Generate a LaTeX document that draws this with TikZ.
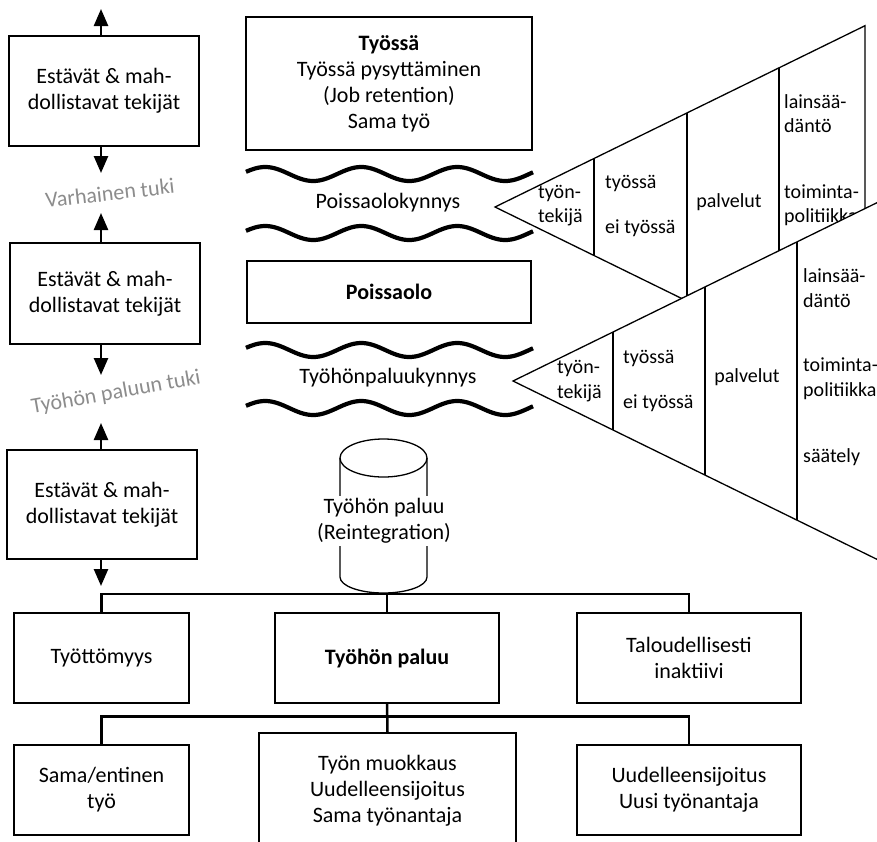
\documentclass[tikz,border=0pt]{standalone}
\usepackage{fontspec}
\setmainfont{Carlito}
\usetikzlibrary{arrows.meta,calc}
\begin{document}
\begin{tikzpicture}[x=1pt,y=-1pt,
  every node/.style={font=\fontsize{22}{26}\selectfont, inner sep=0pt},
  box/.style={draw, line width=1.5pt, align=center},
  tritext/.style={font=\fontsize{20}{24.5}\selectfont, align=left},
  arr/.style={line width=2.5pt, -{Triangle[width=14pt,length=17pt]}},
  bus/.style={line width=2.5pt},
  wave/.style={line width=4.2pt},
  hint/.style={text=black!45},
  triline/.style={line width=1.3pt, line join=miter}
]
\useasboundingbox (0,0) rectangle (877,841);
\clip (0,0) rectangle (877,841);

% ---------- left column: factors and support phases ----------
\node[box, minimum width=190pt, minimum height=110pt] (b1) at (104,91) {Estävät \& mah-\\dollistavat tekijät};
\node[box, minimum width=190pt, minimum height=101pt] (b2) at (105,293.5) {Estävät \& mah-\\dollistavat tekijät};
\node[box, minimum width=190pt, minimum height=109pt] (b3) at (102,504.5) {Estävät \& mah-\\dollistavat tekijät};

\coordinate (u1) at (101,9);
\coordinate (d1) at (101,173);
\coordinate (u2) at (101,213);
\coordinate (d2) at (101,375);
\coordinate (u3) at (101,423);
\coordinate (d3) at (101,586);
\draw[arr] (b1.north -| u1) -- (u1);
\draw[arr] (b1.south -| d1) -- (d1);
\draw[arr] (b2.north -| u2) -- (u2);
\draw[arr] (b2.south -| d2) -- (d2);
\draw[arr] (b3.north -| u3) -- (u3);
\draw[arr] (b3.south -| d3) -- (d3);

\node[hint, rotate=6.5] (varh) at (110,193) {Varhainen tuki};
\node[hint, rotate=10] (paluutuki) at (116,393) {Työhön paluun tuki};

% ---------- middle column: states and thresholds ----------
\node[box, minimum width=286pt, minimum height=133pt] (tyossa) at (389,83.5)
  {\textbf{Työssä}\\Työssä pysyttäminen\\(Job retention)\\Sama työ};

\draw[wave] plot[domain=246:533, samples=150] (\x, {174 - 7*cos(360*((\x-246)/96-0.2))});
\node (pk) at (388,203) {Poissaolokynnys};
\draw[wave] plot[domain=246:533, samples=150] (\x, {233 - 7*cos(360*((\x-246)/96-0.2))});

\node[box, minimum width=284pt, minimum height=62pt] (poissaolo) at (389,292) {\textbf{Poissaolo}};

\draw[wave] plot[domain=246:533, samples=150] (\x, {350 - 7*cos(360*((\x-246)/96-0.2))});
\node (tk) at (388,378) {Työhönpaluukynnys};
\draw[wave] plot[domain=246:533, samples=150] (\x, {408 - 7*cos(360*((\x-246)/96-0.2))});

% cylinder
\coordinate (cyltop) at (383.5,458);
\coordinate (cylbase) at (383.5,594);
\draw[triline] (cyltop) ellipse [x radius=43.5, y radius=19];
\draw[triline] (340,458) -- (340,577) arc[start angle=180, end angle=0, x radius=43.5, y radius=16] -- (427,458);
\node[fill=white, inner sep=2pt, align=center] (cyltext) at (384,521) {Työhön paluu\\(Reintegration)};

% ---------- outcomes ----------
\node[box, minimum width=175pt, minimum height=90pt] (tyott) at (101.5,658) {Työttömyys};
\node[box, minimum width=224pt, minimum height=90pt] (paluu) at (387,658) {\textbf{Työhön paluu}};
\node[box, minimum width=224pt, minimum height=90pt] (talous) at (689,658) {Taloudellisesti\\inaktiivi};

\node[box, minimum width=175pt, minimum height=90pt] (sama) at (101.5,790) {Sama/entinen\\työ};
\node[box, minimum width=257pt, minimum height=116pt] (muokkaus) at (387.5,791) {Työn muokkaus\\Uudelleensijoitus\\Sama työnantaja};
\node[box, minimum width=224pt, minimum height=90pt] (uusi) at (689,790) {Uudelleensijoitus\\Uusi työnantaja};

\draw[bus] (tyott.north) -- (tyott.north |- cylbase) -| (talous.north);
\draw[bus] (paluu.north |- cylbase) -- (paluu.north);
\draw[bus] (sama.north) -- ++(0,-28) -| (uusi.north);
\draw[bus] (paluu.south) -- (muokkaus.north);

% ---------- first wedge ----------
\draw[triline] (495,207) -- (865,25.7) -- (865,388.3) -- cycle;
\draw[triline] (594,158.5) -- (594,255.5);
\draw[triline] (687,112.9) -- (687,301.1);
\draw[triline] (779,67.8) -- (779,346.2);
\node[tritext, anchor=west] (t1a) at (538,205.5) {työn-\\tekijä};
\node[tritext, anchor=west] (t1b) at (605,183) {työssä};
\node[tritext, anchor=west] (t1c) at (605,228) {ei työssä};
\node[tritext] (t1d) at (729,202) {palvelut};
\node[tritext, anchor=west] (t1e) at (784,113.5) {lainsää-\\däntö};
\node[tritext, anchor=west] (t1f) at (784,205) {toiminta-\\politiikka};

% ---------- second wedge, laid over the first ----------
\draw[triline, fill=white] (513,381) -- (960,162) -- (960,600) -- cycle;
\draw[triline] (613,332) -- (613,430);
\draw[triline] (705,286.9) -- (705,475.1);
\draw[triline] (797,241.8) -- (797,520.2);
\node[tritext, anchor=west] (t2a) at (557,381) {työn-\\tekijä};
\node[tritext, anchor=west] (t2b) at (623,358) {työssä};
\node[tritext, anchor=west] (t2c) at (623,403) {ei työssä};
\node[tritext] (t2d) at (747,377) {palvelut};
\node[tritext, anchor=west] (t2e) at (803,288) {lainsää-\\däntö};
\node[tritext, anchor=west] (t2f) at (803,378.5) {toiminta-\\politiikka};
\node[tritext, anchor=west] (t2g) at (803,457) {säätely};
\end{tikzpicture}
\end{document}
